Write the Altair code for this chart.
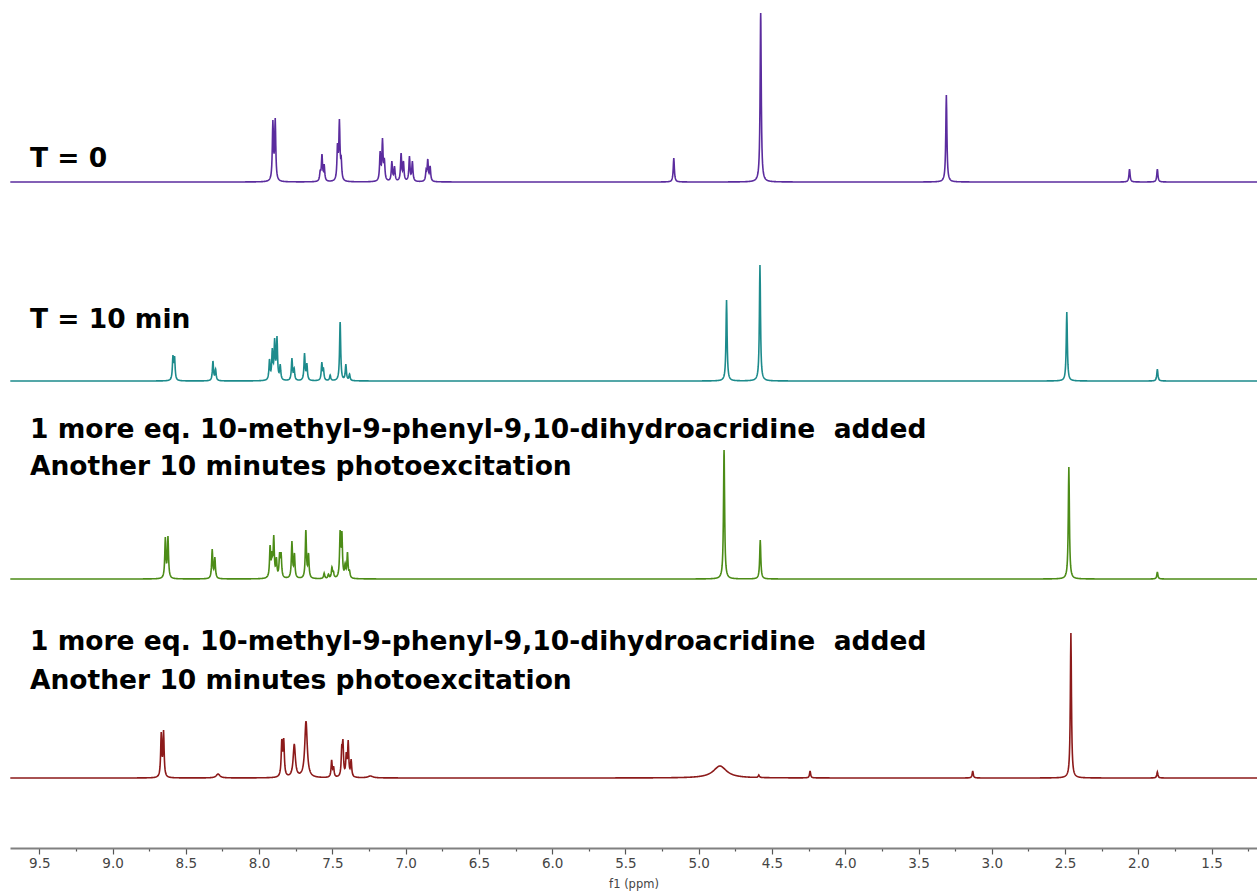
import numpy as np
import pandas as pd
import altair as alt

# Stacked 1H NMR spectra, chemical shift axis runs right-to-left
PPM_LEFT, PPM_RIGHT = 9.70, 1.19

# ---- peak tables: shift (ppm), peak height (a.u.), half width (ppm) ----
t0_shift = [7.906, 7.890, 7.583, 7.571, 7.556, 7.465, 7.452, 7.440,
            7.174, 7.158, 7.145, 7.094, 7.076, 7.031, 7.015, 6.974,
            6.954, 6.860, 6.849, 6.833, 5.170, 4.577, 3.310, 2.060, 1.870]
t0_height = [62, 64, 12, 28, 18, 39, 63, 26,
             31, 44, 23, 21, 16, 29, 21, 26,
             21, 13, 23, 16, 24, 169, 87, 13, 13]
t0_width = [0.0045] * 25

t10_shift = [8.588, 8.577, 8.315, 8.297, 7.929, 7.910, 7.894, 7.878,
             7.856, 7.776, 7.761, 7.690, 7.674, 7.572, 7.561, 7.515,
             7.447, 7.408, 7.383, 4.810, 4.582, 2.488, 1.870]
t10_height = [26, 25, 20, 12, 22, 33, 43, 45,
              17, 23, 13, 28, 18, 19, 13, 6,
              59, 17, 7, 81, 116, 69, 12]
t10_width = [0.0045] * 23

add1_shift = [8.640, 8.622, 8.320, 8.302, 7.925, 7.912, 7.900, 7.882,
              7.860, 7.850, 7.776, 7.759, 7.681, 7.663, 7.556, 7.527,
              7.503, 7.493, 7.447, 7.435, 7.413, 7.397, 7.383,
              4.827, 4.580, 2.474, 1.870]
add1_height = [42, 43, 30, 22, 34, 28, 44, 22,
               27, 27, 38, 26, 49, 26, 6, 5,
               12, 8, 49, 48, 16, 27, 9,
               129, 39, 112, 7]
add1_width = [0.0045] * 27

add2_shift = [8.668, 8.652, 8.280, 7.845, 7.832, 7.760, 7.680, 7.505,
              7.492, 7.436, 7.428, 7.405, 7.392, 7.372, 7.240,
              4.855, 4.590, 4.240, 3.130, 2.460, 1.870]
add2_height = [46, 48, 4, 39, 40, 34, 57, 18,
               12, 33, 39, 26, 38, 19, 2,
               12, 3, 7, 7, 145, 6]
add2_width = [0.0045, 0.0045, 0.015, 0.005, 0.005, 0.009, 0.010, 0.0045,
              0.0045, 0.0045, 0.0045, 0.0045, 0.0045, 0.0045, 0.02,
              0.055, 0.0045, 0.0045, 0.0045, 0.0045, 0.0045]

trace_names = ["T = 0", "T = 10 min", "+1 eq. (1)", "+1 eq. (2)"]
trace_colors = ["#5b2c9e", "#1d8b8c", "#4c8c17", "#8c1a1a"]
trace_baseline = [666, 467, 269, 70]   # vertical stacking offsets
tables = [(t0_shift, t0_height, t0_width),
          (t10_shift, t10_height, t10_width),
          (add1_shift, add1_height, add1_width),
          (add2_shift, add2_height, add2_width)]


def lorentz(x, c, w):
    return 1.0 / (1.0 + ((x - c) / w) ** 2)


frames = []
grid = np.arange(PPM_RIGHT, PPM_LEFT, 0.002)
for name, base, (shift, height, width) in zip(trace_names, trace_baseline, tables):
    c = np.array(shift, float)
    h = np.array(height, float)
    w = np.array(width, float)
    # amplitudes chosen so the summed curve reaches each listed peak height
    A = lorentz(c[:, None], c[None, :], w[None, :])
    amp = np.clip(np.linalg.lstsq(A, h, rcond=None)[0], 0, None)
    x = np.unique(np.concatenate([grid, c]))
    y = (amp[None, :] * lorentz(x[:, None], c[None, :], w[None, :])).sum(axis=1)
    frames.append(pd.DataFrame({"ppm": np.round(x, 4),
                                "signal": np.round(base + y, 2),
                                "trace": name}))
spectra = pd.concat(frames, ignore_index=True)

label_text = ["T = 0", "T = 10 min",
              "1 more eq. 10-methyl-9-phenyl-9,10-dihydroacridine\u00a0 added",
              "Another 10 minutes photoexcitation",
              "1 more eq. 10-methyl-9-phenyl-9,10-dihydroacridine\u00a0 added",
              "Another 10 minutes photoexcitation"]
label_top = [167, 328, 438, 475, 650, 689]
labels = pd.DataFrame({"text": label_text, "ypix": label_top})

tick_values = [round(9.5 - 0.25 * i, 2) for i in range(34)]

x_enc = alt.X(
    "ppm:Q",
    scale=alt.Scale(domain=[PPM_LEFT, PPM_RIGHT], nice=False, zero=False),
    axis=alt.Axis(
        values=tick_values,
        labelExpr="datum.value % 0.5 === 0 ? format(datum.value, '.1f') : ''",
        tickSize={"condition": {"test": "datum.value % 0.5 === 0", "value": 6}, "value": 3},
        domainColor="#808080", domainWidth=2,
        tickColor="#555555", tickWidth=1.2,
        labelFont="DejaVu Sans", labelFontSize=13.5, labelColor="#444444",
        labelPadding=2, labelFlush=False, labelOverlap=False,
        title="f1 (ppm)", titleFont="DejaVu Sans", titleFontSize=11.5,
        titleFontWeight="normal", titleColor="#444444", titlePadding=9,
        grid=False,
    ),
)

lines = alt.Chart(spectra).mark_line(strokeWidth=1.6, clip=True).encode(
    x=x_enc,
    y=alt.Y("signal:Q", scale=alt.Scale(domain=[0, 848], nice=False, zero=False), axis=None),
    color=alt.Color("trace:N", scale=alt.Scale(domain=trace_names, range=trace_colors), legend=None),
    detail="trace:N",
    order="ppm:Q",
)

text = alt.Chart(labels).mark_text(
    align="left", baseline="alphabetic", font="DejaVu Sans",
    fontSize=26.5, fontWeight="bold", color="#000000",
).encode(
    x=alt.value(20),
    y=alt.Y("ypix:Q", scale=None),
    text="text:N",
)

chart = alt.layer(lines, text).properties(
    width=1247, height=848,
    padding={"left": 10, "top": 0, "right": 0, "bottom": 44},
    autosize=alt.AutoSizeParams(type="none"),
).configure_view(strokeWidth=0)

chart.save("out.html", embed_options={"renderer": "svg", "actions": False})
